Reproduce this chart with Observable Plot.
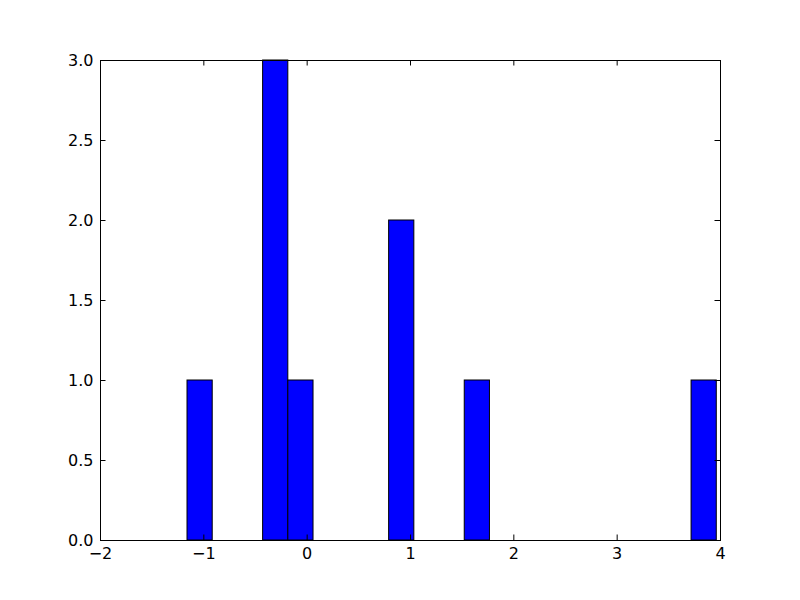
<!DOCTYPE html>
<html>
<head>
<meta charset="utf-8">
<script src="https://cdn.jsdelivr.net/npm/d3@7"></script>
<script src="https://cdn.jsdelivr.net/npm/@observablehq/plot@0.6"></script>
<style>
  html, body { margin: 0; padding: 0; background: #ffffff; }
  #chart { width: 800px; height: 600px; }
</style>
</head>
<body>
<div id="chart"></div>
<script>
// Histogram bins (21 bins)
const binStart = -1.158;
const binWidth = 0.2439;
const binCounts = [1, 0, 0, 3, 1, 0, 0, 0, 2, 0, 0, 1, 0, 0, 0, 0, 0, 0, 0, 0, 1];

// Axis tick values
const xTicks = [-2, -1, 0, 1, 2, 3, 4];
const yTicks = [0, 0.5, 1.0, 1.5, 2.0, 2.5, 3.0];

const W = 800, H = 600;
const mL = 100, mR = 80, mT = 60, mB = 60;
const plotW = W - mL - mR, plotH = H - mT - mB;
const tickLen = 5.5;

const bins = binCounts.map((c, i) => ({
  x1: binStart + i * binWidth,
  x2: binStart + (i + 1) * binWidth,
  count: c
})).filter(d => d.count > 0);

const chart = Plot.plot({
  width: W,
  height: H,
  marginLeft: mL,
  marginRight: mR,
  marginTop: mT,
  marginBottom: mB,
  style: { fontFamily: "DejaVu Sans", fontSize: "16px", color: "black", background: "white" },
  x: { domain: [-2, 4] },
  y: { domain: [0, 3] },
  marks: [
    Plot.rectY(bins, { x1: "x1", x2: "x2", y: "count", fill: "#0000ff", stroke: "black", strokeWidth: 1 }),
    Plot.frame({ stroke: "black", strokeWidth: 1 }),
    // inward ticks on all four sides
    Plot.tickX(xTicks, { x: d => d, insetTop: plotH - tickLen, stroke: "black" }),
    Plot.tickX(xTicks, { x: d => d, insetBottom: plotH - tickLen, stroke: "black" }),
    Plot.tickY(yTicks, { y: d => d, insetRight: plotW - tickLen, stroke: "black" }),
    Plot.tickY(yTicks, { y: d => d, insetLeft: plotW - tickLen, stroke: "black" }),
    Plot.axisX(xTicks, { anchor: "bottom", tickSize: 0, tickPadding: 7, fontSize: 16, label: null, tickFormat: d3.format("d") }),
    Plot.axisY(yTicks, { anchor: "left", tickSize: 0, tickPadding: 7, fontSize: 16, label: null, tickFormat: d3.format(".1f") })
  ]
});

document.getElementById("chart").appendChild(chart);
</script>
</body>
</html>
